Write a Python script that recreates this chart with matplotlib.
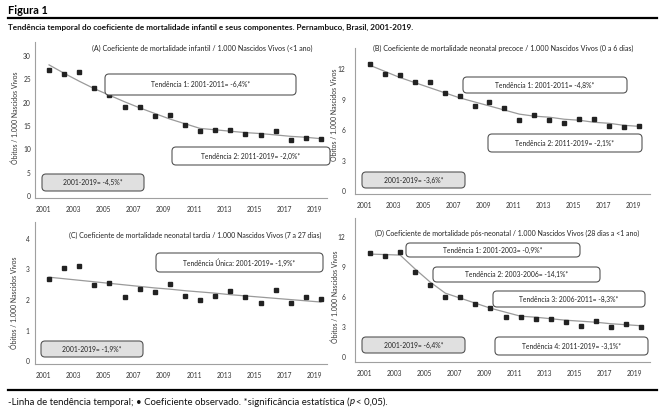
import matplotlib
matplotlib.use("Agg")
import matplotlib.pyplot as plt
from matplotlib.patches import FancyBboxPatch

plt.rcParams["font.family"] = ["Lato", "DejaVu Sans"]

# ── Data ──────────────────────────────────────────────────────────────────────
years = list(range(2001, 2020))
tick_years = list(range(2001, 2020, 2))

obs_a = [27.1, 26.1, 26.5, 23.1, 21.6, 19.0, 19.0, 17.2, 17.3, 15.3,
         14.0, 14.2, 14.1, 13.2, 13.1, 13.9, 12.1, 12.4, 12.3]
trend_a = [28.1, 26.3, 24.6, 23.0, 21.6, 20.2, 18.9, 17.7, 16.5, 15.5,
           14.5, 14.2, 13.9, 13.6, 13.4, 13.1, 12.8, 12.6, 12.3]

obs_b = [12.56, 11.57, 11.44, 10.75, 10.72, 9.67, 9.38, 8.43, 8.75, 8.20,
         7.05, 7.48, 7.05, 6.72, 7.15, 7.15, 6.46, 6.33, 6.43]
trend_b = [12.4, 11.8, 11.2, 10.7, 10.2, 9.7, 9.2, 8.8, 8.4, 8.0,
           7.6, 7.4, 7.3, 7.1, 7.0, 6.8, 6.7, 6.5, 6.4]

obs_c = [2.67, 3.03, 3.09, 2.47, 2.55, 2.11, 2.36, 2.27, 2.53, 2.12,
         2.00, 2.12, 2.29, 2.09, 1.91, 2.32, 1.89, 2.08, 2.02]
trend_c = [2.74, 2.69, 2.64, 2.59, 2.54, 2.49, 2.44, 2.39, 2.35, 2.30,
           2.26, 2.22, 2.17, 2.13, 2.09, 2.05, 2.01, 1.97, 1.93]

obs_d = [10.4, 10.07, 10.5, 8.47, 7.23, 5.97, 6.0, 5.33, 4.9, 4.0,
         4.0, 3.8, 3.87, 3.57, 3.13, 3.67, 3.07, 3.3, 3.07]
trend_d = [10.3, 10.25, 10.2, 8.8, 7.5, 6.4, 5.9, 5.4, 4.9, 4.5,
           4.1, 4.0, 3.85, 3.7, 3.6, 3.5, 3.35, 3.25, 3.15]

titles = [
    "(A) Coeficiente de mortalidade infantil / 1.000 Nascidos Vivos (<1 ano)",
    "(B) Coeficiente de mortalidade neonatal precoce / 1.000 Nascidos Vivos (0 a 6 dias)",
    "(C) Coeficiente de mortalidade neonatal tardia / 1.000 Nascidos Vivos (7 a 27 dias)",
    "(D) Coeficiente de mortalidade pós-neonatal / 1.000 Nascidos Vivos (28 dias a <1 ano)",
]
yticks = [[0, 5, 10, 15, 20, 25, 30], [0, 3, 6, 9, 12], [0, 1, 2, 3, 4], [0, 3, 6, 9, 12]]
ylabel = "Óbitos / 1.000 Nascidos Vivos"

W, H, DPI = 665, 412, 100
fig = plt.figure(figsize=(W / DPI, H / DPI), dpi=DPI, facecolor="white")
renderer = fig.canvas.get_renderer()


def fx(x):
    return x / W


def fy(y):
    return 1 - y / H


def fit_text(x, y, s, width, size=6, horizontal=True, **kw):
    # place a text and scale its font so its extent matches the reference width (px)
    t = fig.text(fx(x), fy(y), s, fontsize=size, **kw)
    ext = t.get_window_extent(renderer)
    cur = ext.width if horizontal else ext.height
    t.set_fontsize(size * width / cur)
    return t


# one font size for all box labels, taken from the width of a reference label
_probe = fit_text(0, 0, "Tendência 1: 2001-2011= -6,4%*", 100)
BOX_FS = _probe.get_fontsize()
_probe.remove()


def add_box(x0, y0, x1, y1, text, gray=False):
    p = FancyBboxPatch((x0 / DPI, (H - y1) / DPI), (x1 - x0) / DPI, (y1 - y0) / DPI,
                       boxstyle="round,pad=0,rounding_size=0.04",
                       transform=fig.dpi_scale_trans,
                       facecolor="#e0e0e0" if gray else "white",
                       edgecolor="#555555", lw=0.8, zorder=5)
    fig.add_artist(p)
    fig.text(fx((x0 + x1) / 2), fy((y0 + y1) / 2), text, fontsize=BOX_FS,
             ha="center", va="center", color="#222222", zorder=6)


# axes rectangles in pixels: left, top, right, bottom ; xlim ; ylim ; y tick pad
panels = [
    ((35, 42, 327, 198), (2000.07, 2019.4), (-0.4, 33.0), obs_a, trend_a, 3),
    ((355, 48, 650, 194), (2000.0, 2019.74), (-0.25, 14.1), obs_b, trend_b, 7),
    ((35, 222, 327, 364), (2000.07, 2019.4), (-0.09, 4.54), obs_c, trend_c, 4),
    ((355, 218, 650, 362), (2000.0, 2019.6), (-0.47, 13.9), obs_d, trend_d, 7),
]

for i, (rect, xl, yl, obs, trend, ypad) in enumerate(panels):
    l, t, r, b = rect
    ax = fig.add_axes([fx(l), fy(b), (r - l) / W, (b - t) / H])
    ax.plot(years, trend, color="#9a9a9a", lw=0.9, zorder=2)
    ax.plot(years, obs, "s", color="#222222", ms=2.2, zorder=3)
    ax.set_xlim(*xl)
    ax.set_ylim(*yl)
    ax.set_xticks([y - 0.4 for y in tick_years])
    ax.set_xticklabels([str(y) for y in tick_years])
    ax.set_yticks(yticks[i])
    ax.tick_params(length=0, labelsize=4.8, colors="#333333", pad=6)
    ax.tick_params(axis="y", pad=ypad)
    for s in ["top", "right"]:
        ax.spines[s].set_visible(False)
    for s in ["left", "bottom"]:
        ax.spines[s].set_color("#a0a0a0")
        ax.spines[s].set_linewidth(0.8)
    ax.set_facecolor("none")

# y labels
for x, y in [(15, 118), (334, 115), (14, 303), (335, 297)]:
    fit_text(x, y, ylabel, 93, horizontal=False, rotation=90,
             ha="center", va="center", color="#333333")

# panel titles
for (x, y), title, w in zip([(202, 48), (503, 48), (195, 235), (507, 233)], titles,
                            [223, 260, 253, 268]):
    fit_text(x, y, title, w, ha="center", va="center", color="#222222")

# trend boxes
add_box(105, 74, 296, 95, "Tendência 1: 2001-2011= -6,4%*")
add_box(172, 147, 330, 165, "Tendência 2: 2011-2019= -2,0%*")
add_box(42, 174, 144, 191, "2001-2019= -4,5%*", gray=True)

add_box(463, 77, 627, 93, "Tendência 1: 2001-2011= -4,8%*")
add_box(488, 134, 642, 152, "Tendência 2: 2011-2019= -2,1%*")
add_box(362, 172, 465, 188, "2001-2019= -3,6%*", gray=True)

add_box(156, 253, 323, 272, "Tendência Única: 2001-2019= -1,9%*")
add_box(41, 341, 143, 357, "2001-2019= -1,9%*", gray=True)

add_box(406, 243, 580, 257, "Tendência 1: 2001-2003= -0,9%*")
add_box(433, 267, 600, 282, "Tendência 2: 2003-2006= -14,1%*")
add_box(493, 291, 645, 307, "Tendência 3: 2006-2011= -8,3%*")
add_box(495, 337, 648, 355, "Tendência 4: 2011-2019= -3,1%*")
add_box(362, 337, 465, 353, "2001-2019= -6,4%*", gray=True)

# header
fit_text(8, 10, "Figura 1", 40, ha="left", va="center", fontweight="bold", color="black")
fig.add_artist(plt.Line2D([fx(8), fx(657)], [fy(17.5), fy(17.5)], color="black", lw=1.6))
fit_text(8, 27, "Tendência temporal do coeficiente de mortalidade infantil e seus "
         "componentes. Pernambuco, Brasil, 2001-2019.", 409, ha="left", va="center",
         fontweight="bold", color="#111111")

# footer
fig.add_artist(plt.Line2D([fx(8), fx(657)], [fy(390), fy(390)], color="black", lw=1.6))
parts = [("-Linha de tendência temporal; • Coeficiente observado. *significância estatística (", "normal"),
         ("p", "italic"),
         ("< 0,05).", "normal")]
xpos = 8
for txt, style in parts:
    t = fig.text(fx(xpos), fy(402), txt, ha="left", va="center", fontsize=6.9,
                 style=style, color="#111111")
    xpos += t.get_window_extent(renderer).width + 0.5

fig.savefig("out.png", dpi=DPI, facecolor="white")
